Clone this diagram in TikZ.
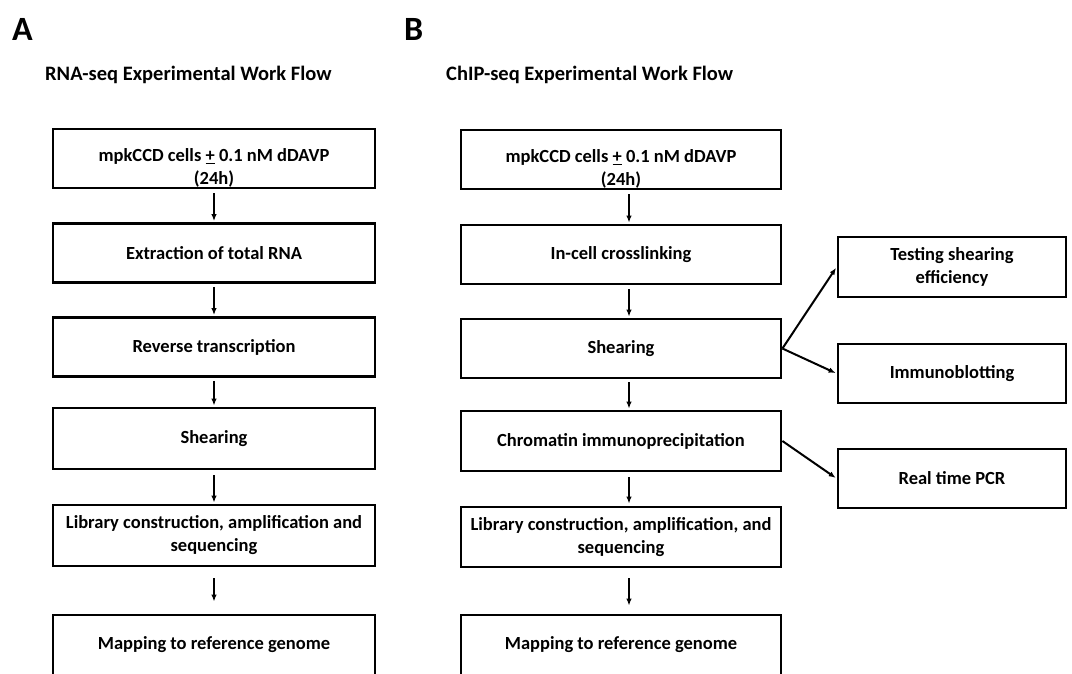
\documentclass[tikz,border=0pt]{standalone}
\usepackage{fontspec}
\setmainfont{Carlito}
\usetikzlibrary{arrows.meta}
\begin{document}
\begin{tikzpicture}[x=1pt,y=-1pt,
  boxbase/.style={draw, line width=2.8pt, minimum height=59pt, inner sep=0pt, align=center,
    font=\bfseries\fontsize{18.5}{23}\selectfont},
  boxA/.style={boxbase, minimum width=322pt},
  boxB/.style={boxbase, minimum width=320pt},
  boxC/.style={boxbase, minimum width=228pt},
  txt/.style={inner sep=0pt, align=center, font=\bfseries\fontsize{18.5}{23}\selectfont},
  ttl/.style={inner sep=0pt, anchor=base west, font=\bfseries\fontsize{20.5}{24}\selectfont},
  lab/.style={inner sep=0pt, anchor=base west, font=\bfseries\fontsize{34}{38}\selectfont},
  arr/.style={line width=2pt, -{Latex[length=7pt,width=5.5pt]}, shorten >=1pt}
]
\fill[white] (0,0) rectangle (1072,673);
\useasboundingbox (0,0) rectangle (1072,673);

% labels and titles
\node[lab] (la) at (12,40) {A};
\node[lab] (lb) at (404,40) {B};
\node[ttl] (ta) at (45,80) {RNA-seq Experimental Work Flow};
\node[ttl] (tb) at (446,80) {ChIP-seq Experimental Work Flow};

% column A
\node[boxA] (a1) at (214,158.5) {};
\node[txt] (a1t) at (214,168) {mpkCCD cells \underline{+} 0.1 nM dDAVP\\(24h)};
\node[boxA] (a2) at (214,253) {Extraction of total RNA};
\node[boxA] (a3) at (214,347) {Reverse transcription};
\node[boxA, minimum height=61pt] (a4) at (214,438.5) {Shearing};
\node[boxA, minimum height=61pt] (a5) at (214,535.5) {Library construction, amplification and\\sequencing};
\node[boxA, minimum height=60pt] (a6) at (214,645) {Mapping to reference genome};

\draw[arr] ([yshift=-4pt]a1.south) -- (a2.north);
\draw[arr] ([yshift=-3pt]a2.south) -- (a3.north);
\draw[arr] ([yshift=-3pt]a3.south) -- (a4.north);
\draw[arr] ([yshift=-5pt]a4.south) -- (a5.north);
\draw[arr, shorten >=12pt] ([yshift=-11pt]a5.south) -- (a6.north);

% column B
\node[boxB] (b1) at (621,159.5) {};
\node[txt] (b1t) at (621,169) {mpkCCD cells \underline{+} 0.1 nM dDAVP\\(24h)};
\node[boxB] (b2) at (621,254.5) {In-cell crosslinking};
\node[boxB] (b3) at (621,348.5) {Shearing};
\node[boxB, minimum height=60pt] (b4) at (621,441) {Chromatin immunoprecipitation};
\node[boxB, minimum height=60pt] (b5) at (621,537) {Library construction, amplification, and\\sequencing};
\node[boxB, minimum height=60pt] (b6) at (621,645) {Mapping to reference genome};

\draw[arr] ([xshift=8pt,yshift=-4pt]b1.south) -- ([xshift=8pt]b2.north);
\draw[arr] ([xshift=8pt,yshift=-4pt]b2.south) -- ([xshift=8pt]b3.north);
\draw[arr] ([xshift=8pt,yshift=-3pt]b3.south) -- ([xshift=8pt]b4.north);
\draw[arr, shorten >=2pt] ([xshift=8pt,yshift=-5pt]b4.south) -- ([xshift=8pt]b5.north);
\draw[arr, shorten >=8pt] ([xshift=8pt,yshift=-10pt]b5.south) -- ([xshift=8pt]b6.north);

% side boxes
\node[boxC, minimum height=60pt] (c1) at (952,267) {Testing shearing\\efficiency};
\node[boxC] (c2) at (952,373.5) {Immunoblotting};
\node[boxC] (c3) at (952,478.5) {Real time PCR};

\draw[arr] (b3.east) -- (c1.west);
\draw[arr] (b3.east) -- (c2.west);
\draw[arr] (b4.east) -- (c3.west);
\end{tikzpicture}
\end{document}
